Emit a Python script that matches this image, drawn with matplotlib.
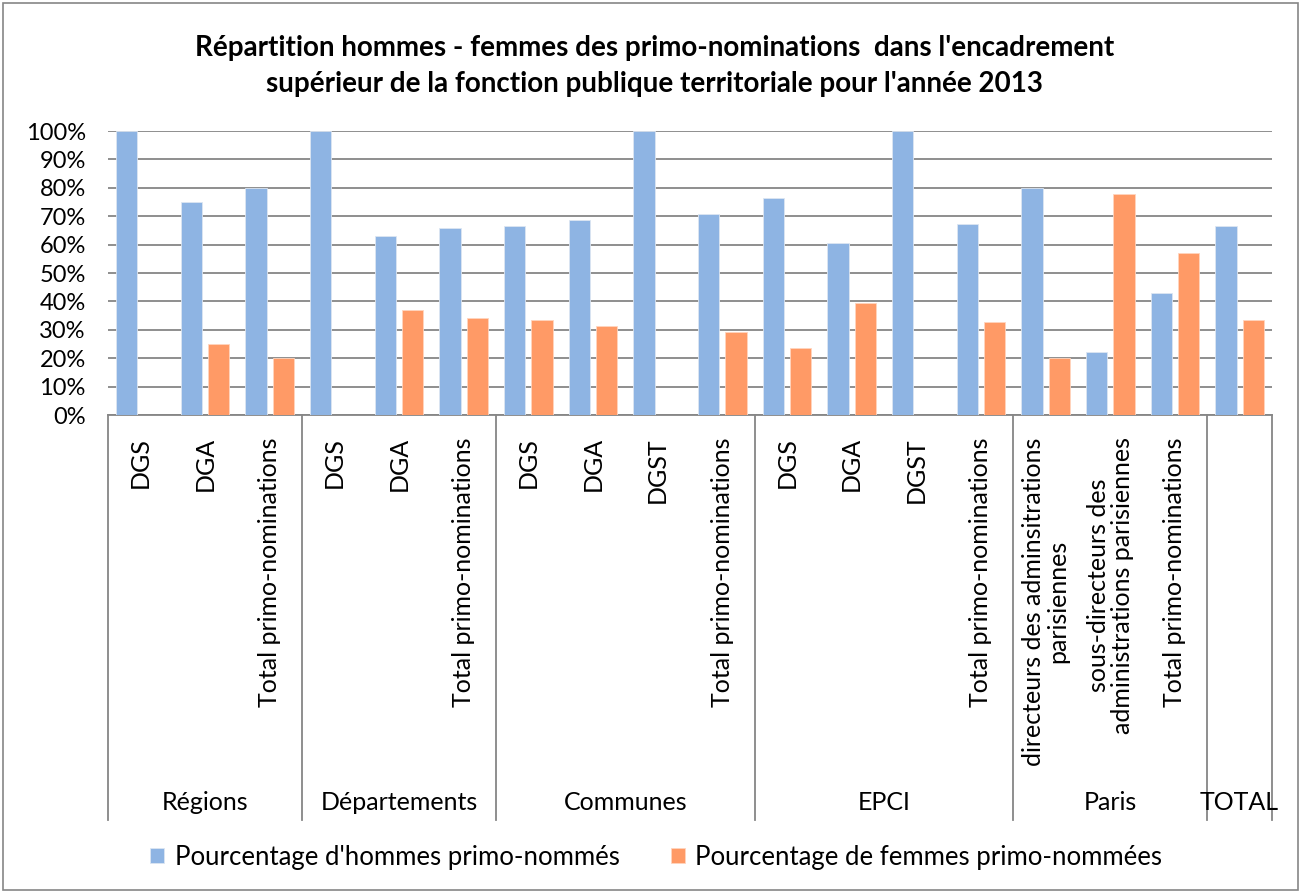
import numpy as np
import matplotlib
matplotlib.use("Agg")
import matplotlib.pyplot as plt
from matplotlib.patches import Rectangle
from matplotlib.lines import Line2D
import matplotlib.transforms as mtransforms

plt.rcParams['font.family'] = ['Lato', 'DejaVu Sans']

# data
categories = ['DGS', 'DGA', 'Total primo-nominations',
              'DGS', 'DGA', 'Total primo-nominations',
              'DGS', 'DGA', 'DGST', 'Total primo-nominations',
              'DGS', 'DGA', 'DGST', 'Total primo-nominations',
              'directeurs des adminsitrations\nparisiennes',
              'sous-directeurs des\nadministrations parisiennes',
              'Total primo-nominations',
              '']
groups = ['Régions', 'Départements', 'Communes', 'EPCI', 'Paris', 'TOTAL']
group_sizes = [3, 3, 4, 4, 3, 1]
hommes = [1.00, 0.75, 0.80,
          1.00, 0.63, 0.66,
          0.666, 0.687, 1.00, 0.706,
          0.765, 0.605, 1.00, 0.671,
          0.80, 0.222, 0.428,
          0.667]
femmes = [0.0, 0.25, 0.20,
          0.0, 0.37, 0.34,
          0.334, 0.313, 0.0, 0.294,
          0.235, 0.395, 0.0, 0.329,
          0.20, 0.778, 0.572,
          0.333]
series_names = ["Pourcentage d'hommes primo-nommés",
                "Pourcentage de femmes primo-nommées"]

blue = '#8EB4E3'
orange = '#FF9A66'
grey = '#868686'

fig = plt.figure(figsize=(13.02, 8.93), dpi=100)
ax = fig.add_axes([108/1302, 1-415/893, 1164/1302, 284/893])

x = np.arange(len(categories))
w = 0.33
b1 = ax.bar(x - 0.21, hommes, w, color=blue, edgecolor='#DCE6F2', linewidth=0.6, zorder=3,
            label=series_names[0])
b2 = ax.bar(x + 0.21, femmes, w, color=orange, edgecolor='#FFD5BF', linewidth=0.6, zorder=3,
            label=series_names[1])

ax.set_xlim(-0.5, len(categories) - 0.5)
ax.set_ylim(0, 1)
ax.set_yticks(np.arange(0, 1.01, 0.1))
ax.set_yticklabels(['%d%%' % round(v*100) for v in np.arange(0, 1.01, 0.1)], fontsize=17)
ax.yaxis.grid(True, color=grey, linewidth=1.3, zorder=0)
ax.set_axisbelow(True)
for s in ['top', 'right', 'left']:
    ax.spines[s].set_visible(False)
ax.spines['bottom'].set_color(grey)
ax.spines['bottom'].set_linewidth(1.3)
ax.tick_params(axis='y', length=0, pad=16)

ax.set_xticks(x)
ax.set_xticklabels(categories, rotation=90, fontsize=18, multialignment='center',
                   linespacing=1.05)
ax.tick_params(axis='x', length=0, pad=16)

# group separators and group labels
trans = mtransforms.blended_transform_factory(ax.transData, ax.transAxes)
bottom_y = -405/284
edges = np.concatenate([[0], np.cumsum(group_sizes)]) - 0.5
for e in edges:
    ax.add_line(Line2D([e, e], [0, bottom_y], transform=trans, color=grey,
                       linewidth=1.3, clip_on=False))
for i, g in enumerate(groups):
    ax.text((edges[i] + edges[i+1]) / 2, -388/284, g, transform=trans,
            ha='center', va='center', fontsize=18)

fig.text(0.503, 1-66/893,
         "Répartition hommes - femmes des primo-nominations  dans l'encadrement\n"
         "supérieur de la fonction publique territoriale pour l'année 2013",
         ha='center', va='center', fontsize=20, fontweight='bold', linespacing=1.45)

fig.legend(handles=[b1, b2], labels=series_names, loc='center',
           bbox_to_anchor=(0.504, 1-857/893), ncol=2, frameon=False, fontsize=18.5,
           handlelength=0.55, handleheight=0.55, handletextpad=0.4, columnspacing=2.0)

fig.patches.append(Rectangle((0.002, 0.003), 0.995, 0.994, transform=fig.transFigure,
                             fill=False, edgecolor=grey, linewidth=1.2))

fig.savefig('out.png', dpi=100)
